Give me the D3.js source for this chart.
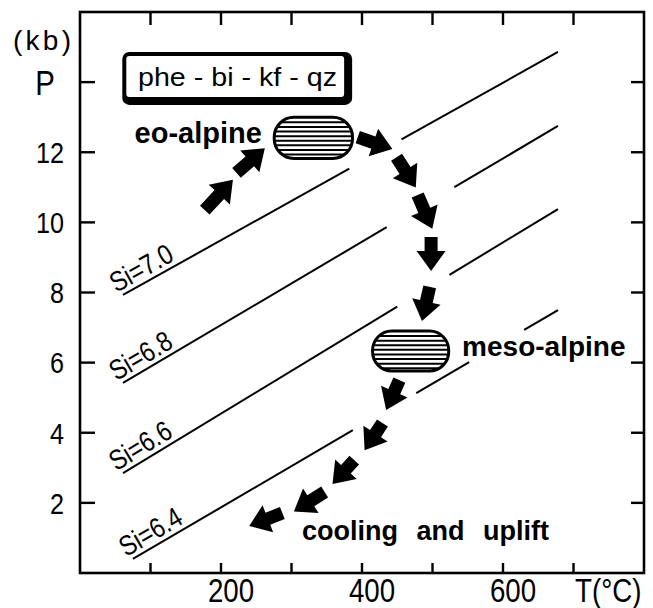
<!DOCTYPE html>
<html>
<head>
<meta charset="utf-8">
<script src="https://cdn.jsdelivr.net/npm/d3@7"></script>
<style>
  body { margin: 0; background: #fff; }
  svg { display: block; }
</style>
</head>
<body>
<svg id="chart" width="653" height="608"></svg>
<script>
const svg = d3.select("#chart"); // the drawing

// axis ticks and labels
const tempTicks = [100, 200, 300, 400, 500, 600, 700];
const tempLabels = [200, 400, 600];
const presTicks = [2, 4, 6, 8, 10, 12, 14];
const presLabels = [2, 4, 6, 8, 10, 12];

// Si isopleths (T in °C, P in kb), with gaps where the path crosses
const siLabels = ["Si=7.0", "Si=6.8", "Si=6.6", "Si=6.4"];
const siStartT = [61, 61, 61, 75];
const siStartP = [7.93, 5.42, 2.85, 0.40];
const siEndT = [678, 678, 678, 678];
const siEndP = [14.86, 12.75, 10.38, 7.50];
const siGaps = [[[382, 456]], [[435, 531]], [[450, 524]], [[387, 477], [552, 630]]];

// P-T path arrows: tail and tip
const arrowTailT = [177, 222, 394, 449, 479, 498, 496, 453, 429, 389, 347, 287];
const arrowTailP = [10.35, 11.41, 12.43, 11.86, 10.78, 9.58, 8.16, 5.50, 4.28, 3.22, 2.31, 1.71];
const arrowTipT = [214, 259, 439, 474, 498, 498, 486, 436, 406, 361, 307, 244];
const arrowTipP = [11.15, 12.06, 12.12, 11.07, 9.90, 8.70, 7.27, 4.73, 3.57, 2.60, 1.80, 1.37];

// hatched stages: centre and size
const stageNames = ["eo-alpine", "meso-alpine"];
const stageT = [331, 469];
const stageP = [12.41, 6.33];
const stageW = [111, 108]; // °C
const stageH = [1.17, 1.14]; // kb

const x = d3.scaleLinear().domain([0, 800]).range([80, 644]);
const y = d3.scaleLinear().domain([0, 16]).range([573, 12]);

const font = "'Liberation Sans', Arial, sans-serif";
const narrow = 0.84; // squeeze for the thin axis lettering

// frame
svg.append("rect")
    .attr("x", x(0)).attr("y", y(16))
    .attr("width", x(800) - x(0)).attr("height", y(0) - y(16))
    .attr("fill", "none").attr("stroke", "#000").attr("stroke-width", 2.6);

// ticks, all pointing inward
const tickG = svg.append("g").attr("stroke", "#000").attr("stroke-width", 2.4);
tempTicks.forEach(t => {
    tickG.append("line").attr("x1", x(t)).attr("x2", x(t)).attr("y1", y(0)).attr("y2", y(0) - 10);
    tickG.append("line").attr("x1", x(t)).attr("x2", x(t)).attr("y1", y(16)).attr("y2", y(16) + 13);
});
presTicks.forEach(p => {
    tickG.append("line").attr("x1", x(0)).attr("x2", x(0) + 15).attr("y1", y(p)).attr("y2", y(p));
    tickG.append("line").attr("x1", x(800)).attr("x2", x(800) - 13).attr("y1", y(p)).attr("y2", y(p));
});

// tick labels
svg.selectAll(".ylab").data(presLabels).enter().append("text")
    .attr("transform", d => `translate(${x(0) - 16},${y(d)}) scale(${narrow},1)`)
    .attr("dy", "0.36em")
    .attr("text-anchor", "end")
    .style("font-family", font).style("font-size", "30px")
    .text(d => d);
svg.selectAll(".xlab").data(tempLabels).enter().append("text")
    .attr("transform", d => `translate(${x(d) + 10},602) scale(${narrow},1)`)
    .attr("text-anchor", "middle")
    .style("font-family", font).style("font-size", "33px")
    .text(d => d);

// axis titles
svg.append("text")
    .attr("transform", `translate(45,${y(14)}) scale(${narrow},1)`)
    .attr("dy", "0.36em").attr("text-anchor", "middle")
    .style("font-family", font).style("font-size", "35px").text("P");
svg.append("text").attr("x", 13).attr("y", 50)
    .attr("textLength", 58).attr("lengthAdjust", "spacing")
    .style("font-family", font).style("font-size", "28px").text("(kb)");
svg.append("text")
    .attr("transform", `translate(575,602) scale(${narrow},1)`)
    .style("font-family", font).style("font-size", "33px").text("T(°C)");

// Si lines
const pAt = (i, t) => siStartP[i] + (siEndP[i] - siStartP[i]) * (t - siStartT[i]) / (siEndT[i] - siStartT[i]);
siLabels.forEach((lab, i) => {
    let cuts = [siStartT[i]];
    siGaps[i].forEach(g => { cuts.push(g[0]); cuts.push(g[1]); });
    cuts.push(siEndT[i]);
    for (let k = 0; k < cuts.length; k += 2) {
        svg.append("line")
            .attr("x1", x(cuts[k])).attr("y1", y(pAt(i, cuts[k])))
            .attr("x2", x(cuts[k + 1])).attr("y2", y(pAt(i, cuts[k + 1])))
            .attr("stroke", "#000").attr("stroke-width", 2);
    }
    const x0 = x(siStartT[i]), y0 = y(siStartP[i]);
    const ang = Math.atan2(y(siEndP[i]) - y0, x(siEndT[i]) - x0) * 180 / Math.PI;
    svg.append("text")
        .attr("transform", `translate(${x0},${y0}) rotate(${ang})`)
        .attr("x", -5).attr("y", -5)
        .attr("textLength", 68).attr("lengthAdjust", "spacingAndGlyphs")
        .style("font-family", font).style("font-size", "28px")
        .text(lab);
});

// title box with drop shadow
const boxT0 = 60, boxT1 = 386, boxP0 = 14.86, boxP1 = 13.35;
svg.append("rect")
    .attr("x", x(boxT0)).attr("y", y(boxP0))
    .attr("width", x(boxT1) - x(boxT0)).attr("height", y(boxP1) - y(boxP0))
    .attr("rx", 7).attr("fill", "#000");
svg.append("rect")
    .attr("x", x(boxT0) + 4).attr("y", y(boxP0) + 4)
    .attr("width", x(boxT1) - x(boxT0) - 12).attr("height", y(boxP1) - y(boxP0) - 12)
    .attr("rx", 3).attr("fill", "#fff");
svg.append("text")
    .attr("x", 138).attr("y", 86)
    .attr("textLength", 199).attr("lengthAdjust", "spacingAndGlyphs")
    .style("font-family", font).style("font-size", "25px")
    .text("phe - bi - kf - qz");

// hatched stage ovals
const defs = svg.append("defs");
stageNames.forEach((name, i) => {
    const w = x(stageT[i] + stageW[i] / 2) - x(stageT[i] - stageW[i] / 2);
    const h = y(stageP[i] - stageH[i] / 2) - y(stageP[i] + stageH[i] / 2);
    const cx = x(stageT[i]), cy = y(stageP[i]);
    defs.append("clipPath").attr("id", "clip" + i)
        .append("rect").attr("x", cx - w / 2).attr("y", cy - h / 2)
        .attr("width", w).attr("height", h).attr("rx", h * 0.48);
    const g = svg.append("g").attr("clip-path", `url(#clip${i})`);
    for (let yy = cy - h / 2 + 5; yy < cy + h / 2 - 2; yy += 4.6) {
        g.append("line").attr("x1", cx - w / 2).attr("x2", cx + w / 2)
            .attr("y1", yy).attr("y2", yy)
            .attr("stroke", "#000").attr("stroke-width", 2);
    }
    svg.append("rect").attr("x", cx - w / 2).attr("y", cy - h / 2)
        .attr("width", w).attr("height", h).attr("rx", h * 0.48)
        .attr("fill", "none").attr("stroke", "#000").attr("stroke-width", 3);
});

// arrows
arrowTailT.forEach((t, i) => {
    const x0 = x(t), y0 = y(arrowTailP[i]);
    const x1 = x(arrowTipT[i]), y1 = y(arrowTipP[i]);
    const L = Math.hypot(x1 - x0, y1 - y0) + 3;
    const ang = Math.atan2(y1 - y0, x1 - x0) * 180 / Math.PI;
    const hl = 20, hw = 14.5, sw = 6.5;
    const pts = [[0, -sw], [L - hl, -sw], [L - hl, -hw], [L, 0], [L - hl, hw], [L - hl, sw], [0, sw]];
    svg.append("polygon")
        .attr("points", pts.map(p => p.join(",")).join(" "))
        .attr("transform", `translate(${x0},${y0}) rotate(${ang})`)
        .attr("fill", "#000");
});

// stage labels
svg.append("text").attr("x", x(258)).attr("y", y(12.26))
    .attr("text-anchor", "end")
    .style("font-family", font).style("font-size", "29px").style("font-weight", "bold")
    .text("eo-alpine");
svg.append("text").attr("x", x(542)).attr("y", y(6.19))
    .style("font-family", font).style("font-size", "28px").style("font-weight", "bold")
    .text("meso-alpine");
svg.append("text").attr("x", x(315)).attr("y", y(0.94))
    .style("font-family", font).style("font-size", "27px").style("font-weight", "bold")
    .style("word-spacing", "11px")
    .text("cooling and uplift");
</script>
</body>
</html>
